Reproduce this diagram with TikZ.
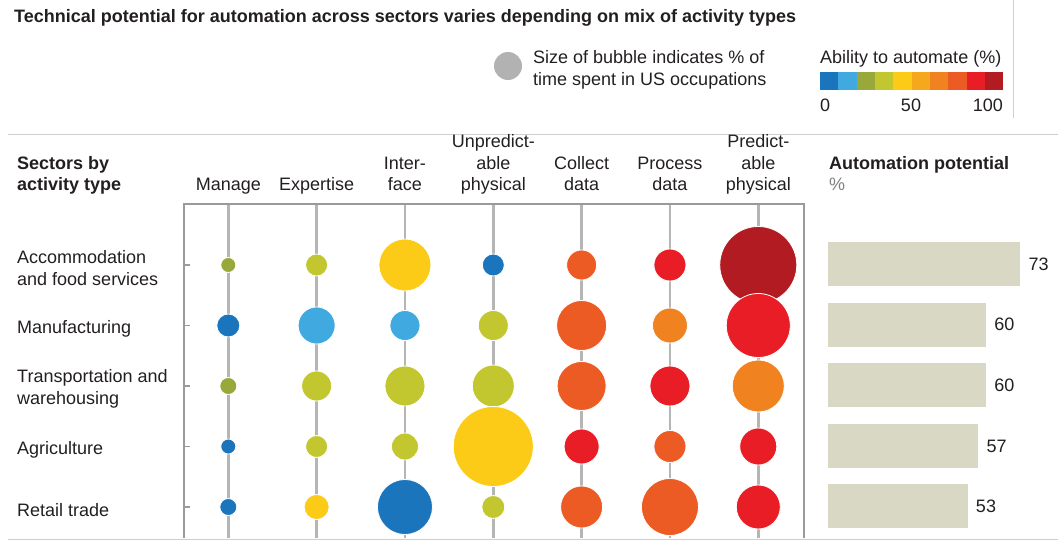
\documentclass[tikz,border=0pt]{standalone}
\definecolor{autoblue}{HTML}{1B75BC}
\definecolor{autosky}{HTML}{3FA9E0}
\definecolor{autoolive}{HTML}{99A83B}
\definecolor{autolime}{HTML}{C2C62F}
\definecolor{autoyellow}{HTML}{FBCB17}
\definecolor{autoamber}{HTML}{F6A81D}
\definecolor{autoorange}{HTML}{F0821F}
\definecolor{autoflame}{HTML}{EC5B24}
\definecolor{autored}{HTML}{E81D25}
\definecolor{automaroon}{HTML}{B31B23}
\definecolor{barbeige}{HTML}{D9D8C4}
\definecolor{gridgray}{HTML}{B5B5B5}
\definecolor{framegray}{HTML}{9A9A9A}
\definecolor{rulegray}{HTML}{CFCFCF}
\definecolor{inkgray}{HTML}{231F20}
\usepackage{fontspec}
\setmainfont{Liberation Sans}
\usepackage{tikz}
\usetikzlibrary{positioning, calc}

\newcommand{\chartfont}{\fontsize{18}{21.5}\selectfont}

\tikzset{
  chart text/.style={font=\chartfont, text=inkgray, inner sep=0pt},
  head text/.style={chart text, align=center},
  bubble/.style={circle, draw=white, line width=0.8pt, inner sep=0pt, fill=#1},
  grid line/.style={gridgray, line width=2.5pt},
  frame line/.style={framegray, line width=1.4pt},
  rule line/.style={rulegray, line width=1pt},
  potential bar/.style={fill=barbeige, draw=none, inner sep=0pt, anchor=west, minimum height=44pt}
}

\begin{document}
\begin{tikzpicture}[x=1pt, y=-1pt]
  \useasboundingbox (0,0) rectangle (1058,540);

  \node[chart text, font=\fontsize{18}{21}\selectfont\bfseries, anchor=west] (title) at (14,18)
    {Technical potential for automation across sectors varies depending on mix of activity types};

  \node[circle, fill=gray!60, minimum size=28pt, inner sep=0pt] (legend-dot) at (508,66) {};
  \node[chart text, align=left, anchor=west] (legend-text) at (533,70)
    {Size of bubble indicates \% of\\time spent in US occupations};
  \node[chart text, anchor=west] (scale-title) at (820,59) {Ability to automate (\%)};
  \foreach \c [count=\i] in {autoblue, autosky, autoolive, autolime, autoyellow,
                             autoamber, autoorange, autoflame, autored, automaroon}
    \fill[\c] ({820+18.33*(\i-1)},72) rectangle ++(18.4,18);
  \node[chart text, anchor=west] (scale-0) at (820,105) {0};
  \node[chart text] (scale-50) at (911,105) {50};
  \node[chart text, anchor=east] (scale-100) at (1003,105) {100};

  \draw[rule line] (1013,0) -- (1013,118);
  \draw[rule line] (8,134.5) -- (1058,134.5);
  \draw[rule line] (8,539) -- (1058,539);

  \foreach \col in {1,...,7} {
    \pgfmathsetmacro{\gx}{228.3+88.33*(\col-1)}
    \coordinate (top-\col) at (\gx,204);
    \coordinate (bot-\col) at (\gx,538);
    \draw[grid line] (top-\col) -- (bot-\col);
  }
  \draw[frame line] (184,538) -- (184,204) -- (804,204) -- (804,538);

  \foreach \txt [count=\col] in {Manage, Expertise, Inter-\\face, Unpredict-\\able\\physical,
                                  Collect\\data, Process\\data, Predict-\\able\\physical}
    \node[head text, above=6.5pt of top-\col] (head-\col) {\txt\strut};

  \node[chart text, font=\chartfont\bfseries, align=left, anchor=south west] (sectors) at (17,197.5)
    {Sectors by\\activity type\strut};
  \node[chart text, align=left, anchor=south west] (potential) at (829,197.5)
    {\textbf{Automation potential}\\\textcolor{gray}{\%}\strut};

  \foreach \row/\y/\txt in {1/265/{Accommodation\\and food services}, 2/325.5/Manufacturing,
                            3/386/{Transportation and\\warehousing}, 4/446.5/Agriculture,
                            5/507/Retail trade} {
    \node[chart text, align=left, anchor=west] (sector-\row) at (17,\y+3) {\txt};
    \draw[frame line] (184,\y) -- ++(6,0);
  }

  \foreach \row/\y/\data in {
      1/265/{7.5/autoolive, 11/autolime, 26/autoyellow, 11/autoblue, 15/autoflame, 16/autored, 38.5/automaroon},
      2/325.5/{11.5/autoblue, 18.5/autosky, 15/autosky, 15/autolime, 25/autoflame, 17.5/autoorange, 32/autored},
      3/386/{8.5/autoolive, 15/autolime, 20/autolime, 21/autolime, 24.5/autoflame, 20/autored, 26/autoorange},
      4/446.5/{7.5/autoblue, 11/autolime, 13.5/autolime, 40/autoyellow, 17.5/autored, 16/autoflame, 18.5/autored},
      5/507/{8.5/autoblue, 12.5/autoyellow, 27.5/autoblue, 11.5/autolime, 21/autoflame, 28.5/autoflame, 22/autored}} {
    \foreach \r/\c [count=\col] in \data {
      \pgfmathsetmacro{\bx}{228.3+88.33*(\col-1)}
      \node[bubble=\c, minimum size={(2*\r)*1pt}] (b-\row-\col) at (\bx,\y) {};
    }
  }

  \foreach \val/\y [count=\i] in {73/264, 60/324.5, 60/385, 57/446, 53/506} {
    \node[potential bar, minimum width={(2.63*\val)*1pt}] (bar-\i) at (828,\y) {};
    \node[chart text, right=8pt of bar-\i] (val-\i) {\val};
  }
\end{tikzpicture}
\end{document}
